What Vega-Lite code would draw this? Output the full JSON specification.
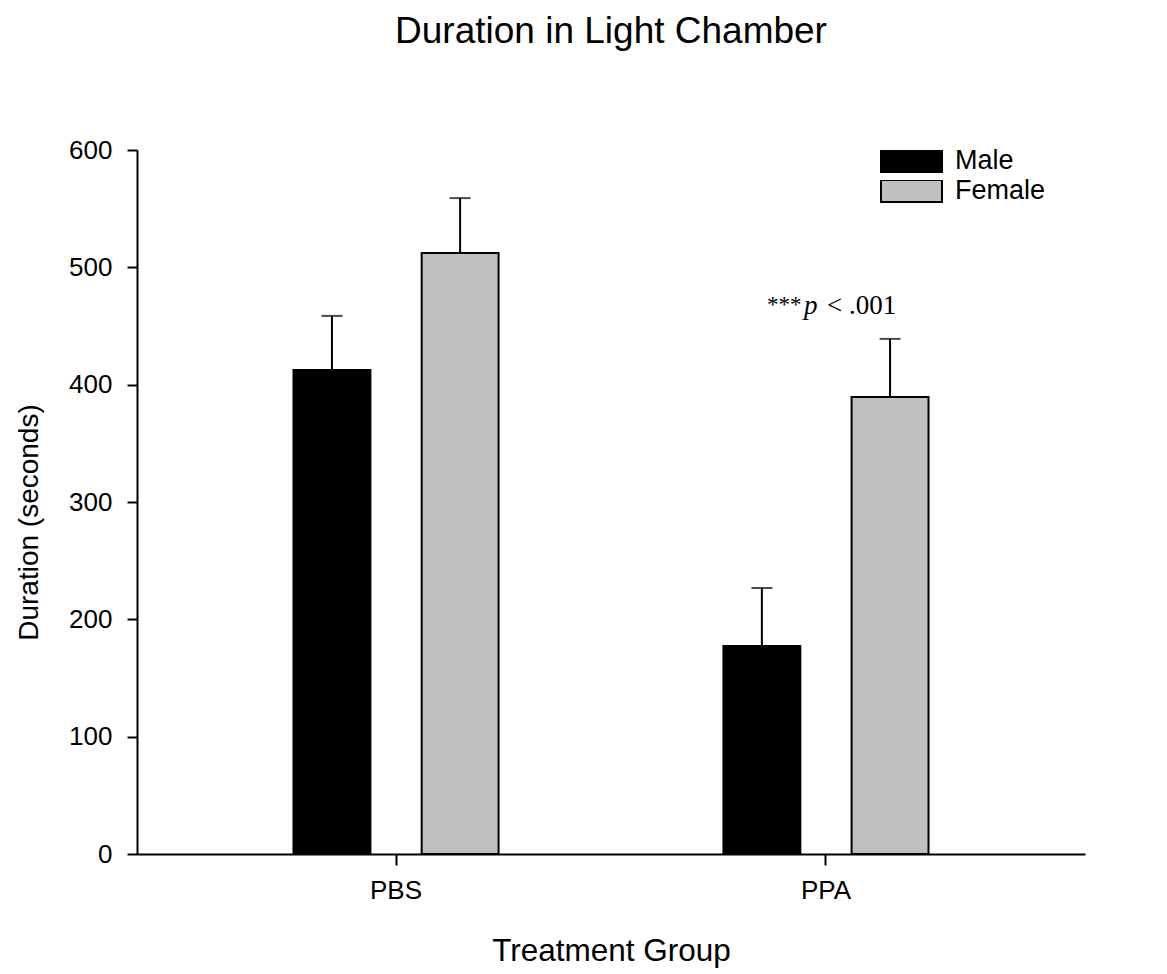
{
  "$schema": "https://vega.github.io/schema/vega-lite/v6.json",
  "width": 948,
  "height": 704,
  "autosize": "none",
  "padding": {"left": 137, "top": 150, "right": 82, "bottom": 120},
  "background": "white",
  "title": {
    "text": "Duration in Light Chamber",
    "font": "Liberation Sans",
    "fontSize": 37,
    "fontWeight": "normal",
    "color": "black",
    "anchor": "middle",
    "frame": "group",
    "baseline": "alphabetic",
    "offset": 57
  },
  "config": {
    "view": {"stroke": null},
    "axis": {
      "labelFont": "Liberation Sans",
      "titleFont": "Liberation Sans",
      "labelColor": "black",
      "titleColor": "black",
      "domainColor": "black",
      "tickColor": "black",
      "domainWidth": 2,
      "tickWidth": 2,
      "grid": false,
      "titleFontWeight": "normal"
    },
    "axisY": {
      "tickSize": 10,
      "labelFontSize": 26,
      "labelPadding": 15,
      "titleFontSize": 28,
      "titlePadding": 25,
      "titleY": 372
    },
    "axisX": {
      "tickSize": 11,
      "labelFontSize": 26,
      "labelPadding": 12,
      "labelAngle": 0,
      "titleFontSize": 31.5,
      "titlePadding": 32
    },
    "legend": {
      "orient": "none",
      "legendX": 743,
      "legendY": 0,
      "padding": 0,
      "symbolType": "M-1,-0.36H1V0.36H-1Z",
      "symbolSize": 3721,
      "symbolStrokeColor": "black",
      "symbolStrokeWidth": 2,
      "labelFont": "Liberation Sans",
      "labelFontSize": 27,
      "labelColor": "black",
      "labelOffset": 12,
      "clipHeight": 22,
      "rowPadding": 3
    }
  },
  "datasets": {
    "bars": [
      {"group": "PBS", "sex": "Male", "value": 412.5, "upper": 458.6},
      {"group": "PBS", "sex": "Female", "value": 512.2, "upper": 559},
      {"group": "PPA", "sex": "Male", "value": 177.3, "upper": 226.7},
      {"group": "PPA", "sex": "Female", "value": 389.5, "upper": 439}
    ],
    "note": [
      {"group": "PPA", "ay": 460, "t1": "***", "t2": "p", "t3": "< .001"}
    ]
  },
  "layer": [
    {
      "data": {"name": "bars"},
      "mark": {"type": "bar", "stroke": "black", "strokeWidth": 2},
      "encoding": {
        "x": {
          "field": "group", "type": "nominal", "title": "Treatment Group",
          "sort": ["PBS", "PPA"],
          "scale": {"paddingInner": 0.523, "paddingOuter": 0.364}
        },
        "xOffset": {
          "field": "sex", "type": "nominal",
          "sort": ["Male", "Female"],
          "scale": {"domain": ["Male", "Female"], "paddingInner": 0.4, "paddingOuter": 0}
        },
        "y": {
          "field": "value", "type": "quantitative", "title": "Duration (seconds)",
          "scale": {"domain": [0, 600], "nice": false},
          "axis": {"values": [0, 100, 200, 300, 400, 500, 600]}
        },
        "color": {
          "field": "sex", "type": "nominal", "title": null,
          "scale": {"domain": ["Male", "Female"], "range": ["#000000", "#c0c0c0"]}
        }
      }
    },
    {
      "data": {"name": "bars"},
      "mark": {"type": "rule", "color": "black", "strokeWidth": 2},
      "encoding": {
        "x": {"field": "group", "type": "nominal", "title": "Treatment Group", "sort": ["PBS", "PPA"]},
        "xOffset": {"field": "sex", "type": "nominal", "sort": ["Male", "Female"]},
        "y": {"field": "value", "type": "quantitative", "title": "Duration (seconds)"},
        "y2": {"field": "upper"}
      }
    },
    {
      "data": {"name": "bars"},
      "mark": {"type": "tick", "color": "black", "size": 21, "thickness": 2, "orient": "horizontal"},
      "encoding": {
        "x": {"field": "group", "type": "nominal", "title": "Treatment Group", "sort": ["PBS", "PPA"]},
        "xOffset": {"field": "sex", "type": "nominal", "sort": ["Male", "Female"]},
        "y": {"field": "upper", "type": "quantitative", "title": "Duration (seconds)"}
      }
    },
    {
      "data": {"name": "note"},
      "mark": {"type": "text", "font": "Liberation Serif", "fontSize": 23, "align": "left", "baseline": "alphabetic", "dx": -59, "dy": -2, "color": "black"},
      "encoding": {
        "x": {"field": "group", "type": "nominal", "title": "Treatment Group", "sort": ["PBS", "PPA"]},
        "y": {"field": "ay", "type": "quantitative", "title": "Duration (seconds)"},
        "text": {"field": "t1"}
      }
    },
    {
      "data": {"name": "note"},
      "mark": {"type": "text", "font": "Liberation Serif", "fontSize": 27, "fontStyle": "italic", "align": "left", "baseline": "alphabetic", "dx": -22, "color": "black"},
      "encoding": {
        "x": {"field": "group", "type": "nominal", "title": "Treatment Group", "sort": ["PBS", "PPA"]},
        "y": {"field": "ay", "type": "quantitative", "title": "Duration (seconds)"},
        "text": {"field": "t2"}
      }
    },
    {
      "data": {"name": "note"},
      "mark": {"type": "text", "font": "Liberation Serif", "fontSize": 27, "align": "left", "baseline": "alphabetic", "dx": 1, "color": "black"},
      "encoding": {
        "x": {"field": "group", "type": "nominal", "title": "Treatment Group", "sort": ["PBS", "PPA"]},
        "y": {"field": "ay", "type": "quantitative", "title": "Duration (seconds)"},
        "text": {"field": "t3"}
      }
    }
  ]
}
